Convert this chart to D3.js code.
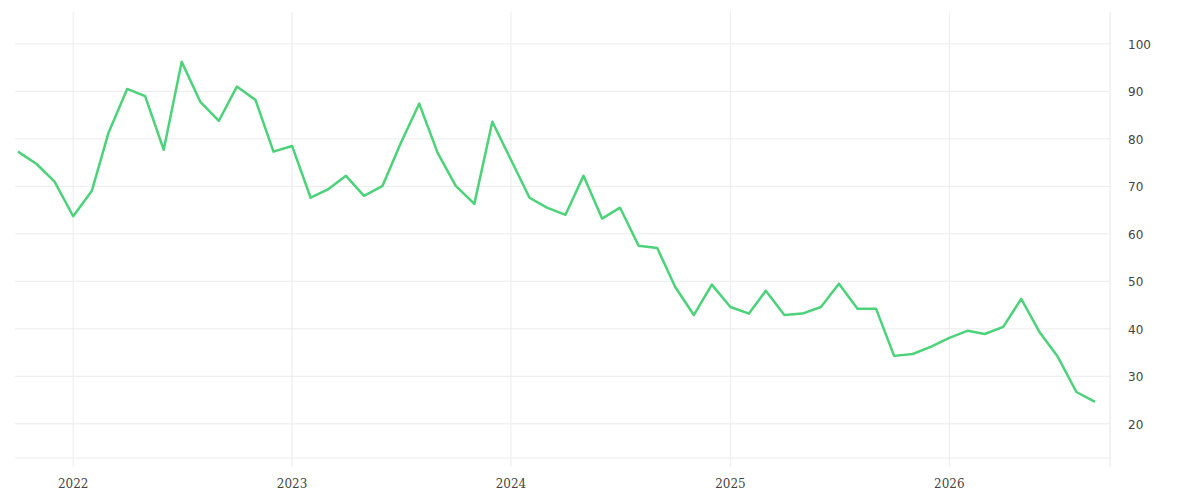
<!DOCTYPE html>
<html><head><meta charset="utf-8">
<script src="https://cdn.jsdelivr.net/npm/d3@7"></script>
<style>body{margin:0;background:#fff}</style>
</head><body>
<script>
// monthly values, Oct 2021 .. Sep 2026
const startMonth = [2021, 9];
const values = [
  77.3, 74.7, 71.0,
  63.7, 69.0, 81.3, 90.5, 89.0, 77.7, 96.2, 87.8, 83.8, 91.0, 88.2, 77.3,
  78.5, 67.6, 69.3, 72.2, 68.0, 70.1, 79.0, 87.4, 77.0, 70.1, 66.3, 83.6,
  75.6, 67.6, 65.5, 64.0, 72.2, 63.2, 65.5, 57.5, 57.0, 48.8, 42.9, 49.3,
  44.6, 43.2, 48.0, 42.9, 43.2, 44.6, 49.5, 44.2, 44.2, 34.3, 34.7, 36.2,
  38.1, 39.6, 38.9, 40.4, 46.3, 39.2, 34.1, 26.7, 24.6
];
const yTicks = [20, 30, 40, 50, 60, 70, 80, 90, 100];
const xTickYears = [2022, 2023, 2024, 2025, 2026];

const WIDTH = 1200, HEIGHT = 500;
const dates = values.map((v, i) => new Date(startMonth[0], startMonth[1] + i, 1));

const x = d3.scaleTime()
  .domain([new Date(2021, 9, 1), new Date(2026, 8, 1)])
  .range([18, 1095]);
const y = d3.scaleLinear().domain([12.8, 106.7]).range([458, 12]);

const svg = d3.select("body").append("svg")
  .attr("width", WIDTH).attr("height", HEIGHT);

// horizontal grid
svg.append("g").selectAll("line")
  .data(yTicks.concat([12.8]))
  .enter().append("line")
  .attr("x1", 15).attr("x2", 1110)
  .attr("y1", d => y(d)).attr("y2", d => y(d))
  .attr("stroke", "#ececec");

// vertical grid
svg.append("g").selectAll("line")
  .data(xTickYears)
  .enter().append("line")
  .attr("x1", d => x(new Date(d, 0, 1))).attr("x2", d => x(new Date(d, 0, 1)))
  .attr("y1", 12).attr("y2", 467)
  .attr("stroke", "#ececec");

svg.append("line")
  .attr("x1", 1110).attr("x2", 1110).attr("y1", 12).attr("y2", 467)
  .attr("stroke", "#e6e6e6");

// y labels
svg.append("g").selectAll("text")
  .data(yTicks).enter().append("text")
  .attr("x", 1128).attr("y", d => y(d) + 5)
  .text(d => d)
  .attr("font-family", "DejaVu Sans, sans-serif")
  .attr("font-size", "12px").attr("fill", "#444");

// x labels
svg.append("g").selectAll("text")
  .data(xTickYears).enter().append("text")
  .attr("x", d => x(new Date(d, 0, 1))).attr("y", 488)
  .attr("text-anchor", "middle")
  .text(d => d)
  .attr("font-family", "DejaVu Serif, serif")
  .attr("font-size", "12px").attr("fill", "#444");

// line
svg.append("path")
  .datum(values)
  .attr("fill", "none")
  .attr("stroke", "#4cd37a")
  .attr("stroke-width", 2.5)
  .attr("stroke-linejoin", "round")
  .attr("d", d3.line().x((d, i) => x(dates[i])).y(d => y(d)));
</script>
</body></html>
